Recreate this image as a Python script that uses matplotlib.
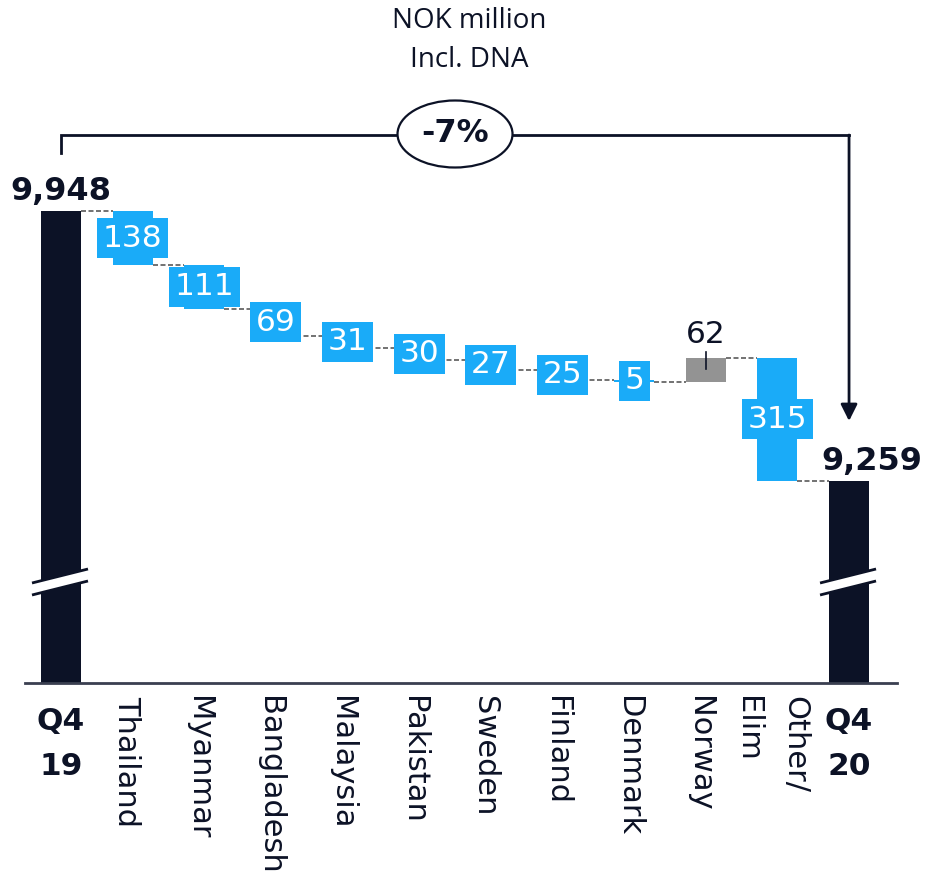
import numpy as np
import matplotlib
matplotlib.use("Agg")
import matplotlib.pyplot as plt
from matplotlib.patches import Ellipse, Polygon
from matplotlib.transforms import Affine2D

# data
start_label = "Q4\n19"
end_label = "Q4\n20"
start_value = 9948
end_value = 9259
steps = ["Thailand", "Myanmar", "Bangladesh", "Malaysia", "Pakistan",
         "Sweden", "Finland", "Denmark", "Norway", "Other/\nElim"]
deltas = [-138, -111, -69, -31, -30, -27, -25, -5, 62, -315]
change_label = "-7%"

NAVY = "#0c1226"
BLUE = "#1aabf8"
GRAY = "#939393"
DASH = "#5a5a5a"

W, H = 926, 881
fig = plt.figure(figsize=(W / 100, H / 100), dpi=100)
ax = fig.add_axes([0, 0, 1, 1])
ax.axis("off")

# pixel scale of the picture
px_x = 71.64                    # pixels per category
px_y = 270 / (start_value - end_value)   # pixels per NOK million
ax.set_xlim(-61 / px_x, (W - 61) / px_x)
ax.set_ylim(start_value - (H - 211) / px_y, start_value + 211 / px_y)
base = start_value - (683 - 211) / px_y   # broken axis floor
dy = 1 / px_y
dx = 1 / px_x
pix = Affine2D().scale(1, -1).translate(0, H)

bw = 40 / px_x
n = len(steps)
xs = np.arange(n + 2)

# totals
for i, v in [(0, start_value), (n + 1, end_value)]:
    ax.bar(xs[i], v - base, bottom=base, width=bw, color=NAVY, zorder=2)

# steps
level = start_value
levels = [level]
for i, d in enumerate(deltas):
    x = xs[i + 1]
    lo, hi = sorted([level, level + d])
    col = GRAY if d > 0 else BLUE
    ax.bar(x, hi - lo, bottom=lo, width=bw, color=col, zorder=2)
    mid = (lo + hi) / 2
    if d > 0:
        ax.plot([x, x], [hi + 6 * dy, hi - 11 * dy], color=NAVY, lw=1.2, zorder=4)
        ax.text(x, hi + 15 * dy, f"{abs(d)}", ha="center", va="baseline",
                fontsize=22.5, color=NAVY, zorder=4)
    else:
        ax.text(x, mid, f"{abs(d)}", ha="center", va="center", fontsize=22.5,
                color="white", zorder=4,
                bbox=dict(boxstyle="square,pad=0.18", fc=BLUE, ec="none"))
    level += d
    levels.append(level)

# dashed connectors
for k in range(n + 1):
    ax.plot([xs[k] + bw / 2, xs[k + 1] - bw / 2], [levels[k]] * 2,
            color=DASH, lw=1.2, ls=(0, (3, 1.5)), zorder=1)

# total labels
ax.text(xs[0], start_value + 11 * dy, f"{start_value:,}", ha="center",
        va="baseline", fontsize=23, fontweight="bold", color=NAVY)
ax.text(xs[-1] + 23 * dx, end_value + 11 * dy, f"{end_value:,}", ha="center",
        va="baseline", fontsize=23, fontweight="bold", color=NAVY)

# axis break marks
brk = start_value - (582 - 211) / px_y
for i in [0, n + 1]:
    x0, x1 = xs[i] - 29 * dx, xs[i] + 27 * dx
    y0, y1 = brk - 7 * dy, brk + 7 * dy
    gap = 6 * dy
    ax.add_patch(Polygon([[x0, y0 + gap], [x1, y1 + gap], [x1, y1 - gap], [x0, y0 - gap]],
                         closed=True, fc="white", ec="none", zorder=3))
    for s in [gap, -gap]:
        ax.plot([x0, x1], [y0 + s, y1 + s], color=NAVY, lw=2, zorder=3,
                solid_capstyle="butt")

# baseline
ax.plot([-36 * dx, xs[-1] + 48 * dx], [base, base], color="#3a3f50", lw=2, zorder=3)

# category labels
for i, lab in [(0, start_label), (n + 1, end_label)]:
    ax.text(xs[i], base - 24 * dy, lab, ha="center", va="top", fontsize=22.5,
            fontweight="bold", color=NAVY, linespacing=1.7)
for i, name in enumerate(steps):
    ax.text(xs[i + 1] - 6 * dx, base - 13 * dy, name, rotation=270, ha="center",
            va="top", fontsize=22, color=NAVY, linespacing=1.8,
            multialignment="left")

# bracket with change
top = start_value + (211 - 135) / px_y
ax.plot([xs[0], xs[0], xs[-1]], [start_value + (211 - 153) / px_y, top, top],
        color=NAVY, lw=2, zorder=2, solid_joinstyle="miter")
ax.annotate("", xy=(xs[-1], end_value + (481 - 421) / px_y), xytext=(xs[-1], top),
            arrowprops=dict(arrowstyle="-|>,head_length=0.5,head_width=0.25",
                            mutation_scale=20, color=NAVY, lw=2, shrinkA=0, shrinkB=0))
cx = (xs[0] + xs[-1]) / 2
cy = top + 1 * dy
ax.add_patch(Ellipse((cx, cy), 115 * dx, 67 * dy, fc="white", ec=NAVY, lw=1.6, zorder=3))
ax.text(cx, cy, change_label, ha="center", va="center", fontsize=23,
        fontweight="bold", color=NAVY, zorder=4)

# title
ax.text(469, 28, "NOK million", transform=pix, ha="center", va="baseline",
        fontsize=20, family="Open Sans", color=NAVY)
ax.text(469, 67, "Incl. DNA", transform=pix, ha="center", va="baseline",
        fontsize=20, family="Open Sans", color=NAVY)

fig.savefig("out.png", dpi=100)
